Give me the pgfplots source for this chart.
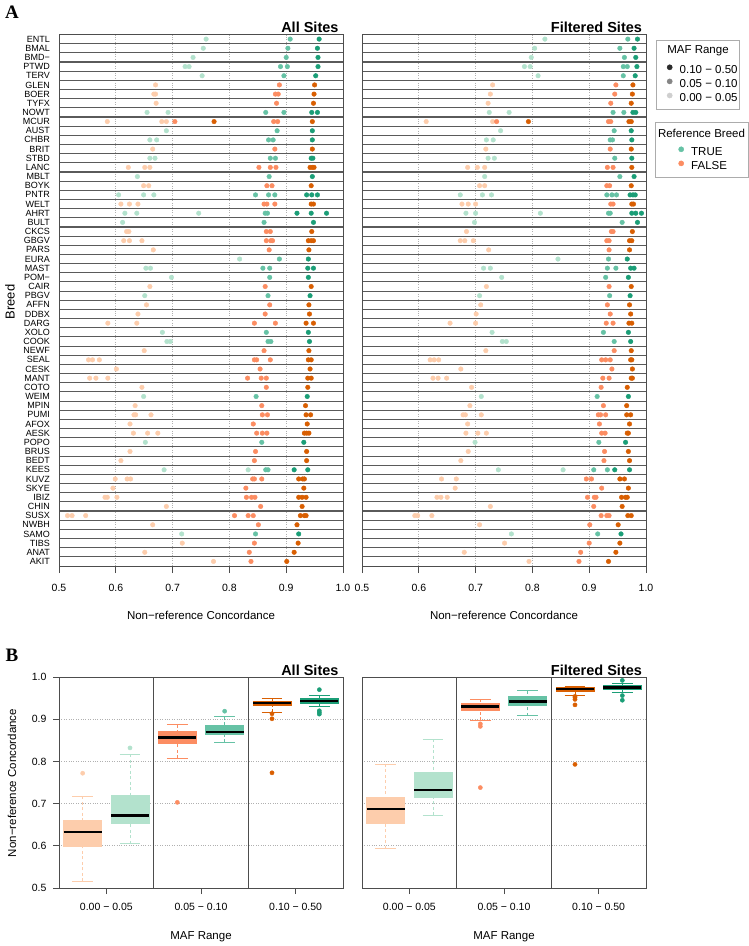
\documentclass[border=0pt]{standalone}
\usepackage{pgfplots}
\pgfplotsset{compat=1.18}
\usepgfplotslibrary{statistics}
\usepackage{fontspec}
\setmainfont{Liberation Sans}
\newfontfamily\panelfont{Liberation Serif}

\definecolor{gT1}{HTML}{B3E2CD}
\definecolor{gT2}{HTML}{66C2A5}
\definecolor{gT3}{HTML}{1B9E77}
\definecolor{oF1}{HTML}{FDCDAC}
\definecolor{oF2}{HTML}{FC8D62}
\definecolor{oF3}{HTML}{D95F02}
\definecolor{framec}{HTML}{4D4D4D}
\definecolor{rowc}{HTML}{5A5A5A}
\definecolor{gridc}{HTML}{B0B0B0}
\definecolor{lg1}{HTML}{2B2B2B}
\definecolor{lg2}{HTML}{858585}
\definecolor{lg3}{HTML}{CFCFCF}

\pgfplotsset{
  /pgf/number format/assume math mode=true,
  boxplot/draw/lower whisker/.code={%
    \draw[/pgfplots/boxplot/every whisker/.try, dash pattern=on 3pt off 2.5pt]
      (boxplot box cs:\pgfplotsboxplotvalue{lower whisker},0.5) --
      (boxplot box cs:\pgfplotsboxplotvalue{lower quartile},0.5);
    \draw[/pgfplots/boxplot/every whisker/.try, solid]
      (boxplot whisker cs:\pgfplotsboxplotvalue{lower whisker},0) --
      (boxplot whisker cs:\pgfplotsboxplotvalue{lower whisker},1);
  },
  boxplot/draw/upper whisker/.code={%
    \draw[/pgfplots/boxplot/every whisker/.try, dash pattern=on 3pt off 2.5pt]
      (boxplot box cs:\pgfplotsboxplotvalue{upper whisker},0.5) --
      (boxplot box cs:\pgfplotsboxplotvalue{upper quartile},0.5);
    \draw[/pgfplots/boxplot/every whisker/.try, solid]
      (boxplot whisker cs:\pgfplotsboxplotvalue{upper whisker},0) --
      (boxplot whisker cs:\pgfplotsboxplotvalue{upper whisker},1);
  },
  dotpanel/.style={
    scale only axis, width=284pt, height=531.5pt,
    xmin=0.5, xmax=1.0, ymin=0.5, ymax=58.5, y dir=reverse,
    axis line style={framec, line width=0.9pt},
    xtick={0.5,0.6,0.7,0.8,0.9,1.0},
    xticklabels={0.5,0.6,0.7,0.8,0.9,1.0},
    xtick pos=left, ytick pos=left, tick align=outside, major tick length=7pt,
    x tick style={framec, line width=0.9pt},
    y tick style={draw=none},
    xmajorgrids, major grid style={gridc, dotted, line width=0.7pt},
    ytick={1,...,58},
    minor y tick num=1, yminorgrids,
    minor grid style={rowc, line width=1.1pt},
    x tick label style={font=\fontsize{10.5}{12}\selectfont, yshift=-8pt},
    y tick label style={font=\fontsize{9}{10}\selectfont, xshift=1.5pt},
    clip=false,
  },
  dots/.style={scatter, only marks, mark=*, mark size=2.3pt, scatter src=explicit symbolic,
    scatter/classes={
      a={mark=*, draw=gT1, fill=gT1},
      b={mark=*, draw=gT2, fill=gT2},
      c={mark=*, draw=gT3, fill=gT3},
      d={mark=*, draw=oF1, fill=oF1},
      e={mark=*, draw=oF2, fill=oF2},
      f={mark=*, draw=oF3, fill=oF3}}},
  boxpanel/.style={
    scale only axis, width=284pt, height=211pt,
    xmin=0.5, xmax=3.5, ymin=0.5, ymax=1.0,
    axis line style={framec, line width=0.9pt},
    xtick={1,2,3}, xticklabels={0.00 − 0.05, 0.05 − 0.10, 0.10 − 0.50},
    ytick={0.5,0.6,0.7,0.8,0.9,1.0},
    tick align=outside, major tick length=6pt, xtick pos=left, ytick pos=left,
    tick style={framec, line width=0.9pt},
    ymajorgrids, major grid style={gridc, dotted, line width=0.7pt},
    extra x ticks={1.5,2.5}, extra x tick labels={},
    extra x tick style={grid=major, major grid style={framec, solid, line width=0.9pt}, major tick length=0pt},
    tick label style={font=\fontsize{10.5}{12}\selectfont},
    x tick label style={yshift=-6pt},
    y tick label style={xshift=-3pt},
  },
  bx/.style={color=#1, mark=*, mark size=2.1pt, mark options={solid, draw=#1, fill=#1},
    boxplot/draw direction=y,
    boxplot/every box/.style={draw=#1, fill=#1, line width=0.6pt},
    boxplot/every whisker/.style={draw=#1, line width=0.8pt},
    boxplot/every median/.style={draw=black, line width=2.5pt}},
  lgd/.style={hide axis, scale only axis, width=1pt, height=1pt, xmin=0, xmax=1, ymin=0, ymax=1,
    legend style={at={(0,1)}, anchor=north west, draw=none, fill=none, inner sep=0pt,
      nodes={inner sep=0pt, text height=8.3pt, text depth=2.7pt, font=\fontsize{11.5}{13}\selectfont},
      row sep=3pt, column sep=5pt},
    legend cell align=left,
    legend image code/.code={\draw[##1] plot coordinates {(0pt,3pt)}; \path[draw=none, fill=none] (-7pt,0pt) (5pt,0pt);}},
}

\begin{document}
\begin{tikzpicture}
\path[use as bounding box] (0pt,0pt) rectangle (749pt,-946pt);

% ---------------- Panel A: All Sites
\begin{axis}[dotpanel, at={(59pt,-566pt)}, anchor=south west,
  yticklabels={ENTL,BMAL,BMD−,PTWD,TERV,GLEN,BOER,TYFX,NOWT,MCUR,AUST,CHBR,BRIT,STBD,LANC,MBLT,BOYK,PNTR,WELT,AHRT,BULT,CKCS,GBGV,PARS,EURA,MAST,POM−,CAIR,PBGV,AFFN,DDBX,DARG,XOLO,COOK,NEWF,SEAL,CESK,MANT,COTO,WEIM,MPIN,PUMI,AFOX,AESK,POPO,BRUS,BEDT,KEES,KUVZ,SKYE,IBIZ,CHIN,SUSX,NWBH,SAMO,TIBS,ANAT,AKIT}]
\addplot[dots] coordinates {
(0.759,1)[a] (0.907,1)[b] (0.958,1)[c]
(0.754,2)[a] (0.903,2)[b] (0.955,2)[c]
(0.736,3)[a] (0.900,3)[b] (0.956,3)[c]
(0.722,4)[a] (0.729,4)[a] (0.890,4)[b] (0.902,4)[b] (0.956,4)[c]
(0.752,5)[a] (0.896,5)[b] (0.952,5)[c]
(0.670,6)[d] (0.888,6)[e] (0.950,6)[f]
(0.667,7)[d] (0.670,7)[d] (0.881,7)[e] (0.886,7)[e] (0.949,7)[f]
(0.671,8)[d] (0.883,8)[e] (0.948,8)[f]
(0.655,9)[a] (0.692,9)[a] (0.864,9)[b] (0.896,9)[b] (0.945,9)[c] (0.955,9)[c]
(0.585,10)[d] (0.681,10)[d] (0.689,10)[d] (0.704,10)[e] (0.878,10)[e] (0.885,10)[e] (0.773,10)[f] (0.946,10)[f]
(0.689,11)[a] (0.884,11)[b] (0.946,11)[c]
(0.660,12)[a] (0.672,12)[a] (0.869,12)[b] (0.877,12)[b] (0.946,12)[c]
(0.665,13)[d] (0.880,13)[e] (0.946,13)[f]
(0.660,14)[a] (0.669,14)[a] (0.872,14)[b] (0.881,14)[b] (0.944,14)[c] (0.947,14)[c]
(0.622,15)[d] (0.651,15)[d] (0.660,15)[d] (0.852,15)[e] (0.872,15)[e] (0.882,15)[e] (0.942,15)[f] (0.946,15)[f] (0.949,15)[f]
(0.638,16)[a] (0.870,16)[b] (0.946,16)[c]
(0.649,17)[d] (0.658,17)[d] (0.866,17)[e] (0.875,17)[e] (0.944,17)[f]
(0.605,18)[a] (0.649,18)[a] (0.667,18)[a] (0.846,18)[b] (0.869,18)[b] (0.880,18)[b] (0.936,18)[c] (0.945,18)[c] (0.955,18)[c]
(0.609,19)[d] (0.624,19)[d] (0.639,19)[d] (0.861,19)[e] (0.866,19)[e] (0.880,19)[e] (0.944,19)[f] (0.948,19)[f]
(0.616,20)[a] (0.637,20)[a] (0.746,20)[a] (0.863,20)[b] (0.867,20)[b] (0.919,20)[c] (0.944,20)[c] (0.971,20)[c]
(0.612,21)[a] (0.861,21)[b] (0.948,21)[c]
(0.619,22)[d] (0.623,22)[d] (0.865,22)[e] (0.872,22)[e] (0.945,22)[f]
(0.614,23)[d] (0.624,23)[d] (0.646,23)[d] (0.865,23)[e] (0.873,23)[e] (0.876,23)[e] (0.939,23)[f] (0.944,23)[f] (0.948,23)[f]
(0.666,24)[d] (0.870,24)[e] (0.940,24)[f]
(0.818,25)[a] (0.888,25)[b] (0.939,25)[c]
(0.653,26)[a] (0.661,26)[a] (0.859,26)[b] (0.871,26)[b] (0.938,26)[c] (0.948,26)[c]
(0.698,27)[a] (0.871,27)[b] (0.939,27)[c]
(0.660,28)[d] (0.863,28)[e] (0.944,28)[f]
(0.651,29)[a] (0.868,29)[b] (0.942,29)[c]
(0.654,30)[d] (0.871,30)[e] (0.940,30)[f]
(0.639,31)[d] (0.863,31)[e] (0.941,31)[f]
(0.586,32)[d] (0.637,32)[d] (0.844,32)[e] (0.881,32)[e] (0.935,32)[f] (0.948,32)[f]
(0.682,33)[a] (0.865,33)[b] (0.939,33)[c]
(0.690,34)[a] (0.696,34)[a] (0.868,34)[b] (0.873,34)[b] (0.941,34)[c]
(0.650,35)[d] (0.861,35)[e] (0.940,35)[f]
(0.552,36)[d] (0.559,36)[d] (0.571,36)[d] (0.844,36)[e] (0.848,36)[e] (0.872,36)[e] (0.939,36)[f] (0.944,36)[f]
(0.601,37)[d] (0.854,37)[e] (0.942,37)[f]
(0.554,38)[d] (0.565,38)[d] (0.586,38)[d] (0.832,38)[e] (0.856,38)[e] (0.865,38)[e] (0.938,38)[f] (0.944,38)[f]
(0.646,39)[d] (0.865,39)[e] (0.938,39)[f]
(0.649,40)[a] (0.847,40)[b] (0.937,40)[c]
(0.634,41)[d] (0.857,41)[e] (0.934,41)[f]
(0.632,42)[d] (0.635,42)[d] (0.662,42)[d] (0.858,42)[e] (0.867,42)[e] (0.935,42)[f] (0.943,42)[f]
(0.625,43)[d] (0.842,43)[e] (0.937,43)[f]
(0.631,44)[d] (0.656,44)[d] (0.674,44)[d] (0.848,44)[e] (0.858,44)[e] (0.866,44)[e] (0.932,44)[f] (0.936,44)[f] (0.940,44)[f]
(0.652,45)[a] (0.857,45)[b] (0.931,45)[c]
(0.625,46)[d] (0.846,46)[e] (0.936,46)[f]
(0.609,47)[d] (0.844,47)[e] (0.936,47)[f]
(0.685,48)[a] (0.833,48)[a] (0.864,48)[b] (0.868,48)[b] (0.914,48)[c] (0.938,48)[c]
(0.599,49)[d] (0.620,49)[d] (0.626,49)[d] (0.841,49)[e] (0.844,49)[e] (0.857,49)[e] (0.922,49)[f] (0.929,49)[f] (0.932,49)[f]
(0.595,50)[d] (0.829,50)[e] (0.931,50)[f]
(0.581,51)[d] (0.585,51)[d] (0.602,51)[d] (0.830,51)[e] (0.839,51)[e] (0.845,51)[e] (0.922,51)[f] (0.928,51)[f] (0.935,51)[f]
(0.689,52)[d] (0.855,52)[e] (0.928,52)[f]
(0.515,53)[d] (0.523,53)[d] (0.547,53)[d] (0.809,53)[e] (0.833,53)[e] (0.842,53)[e] (0.925,53)[f] (0.932,53)[f] (0.935,53)[f]
(0.665,54)[d] (0.851,54)[e] (0.919,54)[f]
(0.716,55)[a] (0.846,55)[b] (0.922,55)[c]
(0.717,56)[d] (0.844,56)[e] (0.921,56)[f]
(0.651,57)[d] (0.835,57)[e] (0.914,57)[f]
(0.772,58)[d] (0.838,58)[e] (0.901,58)[f]
};
\end{axis}

% ---------------- Panel A: Filtered Sites
\begin{axis}[dotpanel, at={(362pt,-566pt)}, anchor=south west, yticklabels={}]
\addplot[dots] coordinates {
(0.822,1)[a] (0.968,1)[b] (0.985,1)[c]
(0.804,2)[a] (0.954,2)[b] (0.979,2)[c]
(0.798,3)[a] (0.962,3)[b] (0.982,3)[c]
(0.786,4)[a] (0.796,4)[a] (0.960,4)[b] (0.967,4)[b] (0.984,4)[c]
(0.810,5)[a] (0.960,5)[b] (0.981,5)[c]
(0.730,6)[d] (0.947,6)[e] (0.977,6)[f]
(0.726,7)[d] (0.945,7)[e] (0.976,7)[f]
(0.722,8)[d] (0.938,8)[e] (0.974,8)[f]
(0.724,9)[a] (0.759,9)[a] (0.942,9)[b] (0.961,9)[b] (0.977,9)[c] (0.982,9)[c]
(0.613,10)[d] (0.730,10)[d] (0.737,10)[e] (0.934,10)[e] (0.938,10)[e] (0.793,10)[f] (0.970,10)[f] (0.974,10)[f]
(0.744,11)[a] (0.944,11)[b] (0.974,11)[c]
(0.719,12)[a] (0.731,12)[a] (0.937,12)[b] (0.941,12)[b] (0.975,12)[c]
(0.718,13)[d] (0.937,13)[e] (0.974,13)[f]
(0.722,14)[a] (0.733,14)[a] (0.945,14)[b] (0.975,14)[c]
(0.686,15)[d] (0.703,15)[d] (0.716,15)[d] (0.932,15)[e] (0.942,15)[e] (0.975,15)[f]
(0.716,16)[a] (0.954,16)[b] (0.979,16)[c]
(0.707,17)[d] (0.716,17)[d] (0.931,17)[e] (0.936,17)[e] (0.974,17)[f]
(0.673,18)[a] (0.712,18)[a] (0.728,18)[a] (0.931,18)[b] (0.940,18)[b] (0.948,18)[b] (0.972,18)[c] (0.977,18)[c] (0.981,18)[c]
(0.676,19)[d] (0.687,19)[d] (0.700,19)[d] (0.938,19)[e] (0.942,19)[e] (0.975,19)[f] (0.978,19)[f]
(0.683,20)[a] (0.700,20)[a] (0.814,20)[a] (0.934,20)[b] (0.937,20)[b] (0.975,20)[c] (0.982,20)[c] (0.992,20)[c]
(0.698,21)[a] (0.958,21)[b] (0.985,21)[c]
(0.684,22)[d] (0.939,22)[e] (0.942,22)[e] (0.976,22)[f]
(0.673,23)[d] (0.681,23)[d] (0.696,23)[d] (0.931,23)[e] (0.935,23)[e] (0.971,23)[f] (0.975,23)[f]
(0.723,24)[d] (0.935,24)[e] (0.971,24)[f]
(0.845,25)[a] (0.934,25)[b] (0.967,25)[c]
(0.714,26)[a] (0.726,26)[a] (0.932,26)[b] (0.947,26)[b] (0.973,26)[c] (0.979,26)[c]
(0.746,27)[a] (0.929,27)[b] (0.969,27)[c]
(0.719,28)[d] (0.935,28)[e] (0.974,28)[f]
(0.707,29)[a] (0.936,29)[b] (0.972,29)[c]
(0.709,30)[d] (0.932,30)[e] (0.971,30)[f]
(0.701,31)[d] (0.937,31)[e] (0.973,31)[f]
(0.655,32)[d] (0.700,32)[d] (0.930,32)[e] (0.942,32)[e] (0.970,32)[f] (0.975,32)[f]
(0.729,33)[a] (0.925,33)[b] (0.969,33)[c]
(0.747,34)[a] (0.754,34)[a] (0.944,34)[b] (0.973,34)[c]
(0.718,35)[d] (0.944,35)[e] (0.974,35)[f]
(0.620,36)[d] (0.627,36)[d] (0.635,36)[d] (0.922,36)[e] (0.929,36)[e] (0.937,36)[e] (0.973,36)[f] (0.975,36)[f]
(0.674,37)[d] (0.940,37)[e] (0.976,37)[f]
(0.625,38)[d] (0.634,38)[d] (0.649,38)[d] (0.924,38)[e] (0.935,38)[e] (0.974,38)[f] (0.976,38)[f]
(0.693,39)[d] (0.921,39)[e] (0.967,39)[f]
(0.710,40)[a] (0.914,40)[b] (0.969,40)[c]
(0.690,41)[d] (0.925,41)[e] (0.966,41)[f]
(0.678,42)[d] (0.682,42)[d] (0.710,42)[d] (0.916,42)[e] (0.920,42)[e] (0.929,42)[e] (0.966,42)[f] (0.973,42)[f]
(0.686,43)[d] (0.918,43)[e] (0.971,43)[f]
(0.683,44)[d] (0.704,44)[d] (0.719,44)[d] (0.922,44)[e] (0.928,44)[e] (0.967,44)[f] (0.969,44)[f]
(0.699,45)[a] (0.917,45)[b] (0.964,45)[c]
(0.687,46)[d] (0.927,46)[e] (0.969,46)[f]
(0.674,47)[d] (0.926,47)[e] (0.971,47)[f]
(0.740,48)[a] (0.854,48)[a] (0.908,48)[b] (0.932,48)[b] (0.945,48)[c] (0.971,48)[c]
(0.640,49)[d] (0.666,49)[d] (0.895,49)[e] (0.904,49)[e] (0.954,49)[f] (0.962,49)[f]
(0.664,50)[d] (0.922,50)[e] (0.969,50)[f]
(0.632,51)[d] (0.639,51)[d] (0.650,51)[d] (0.897,51)[e] (0.909,51)[e] (0.912,51)[e] (0.957,51)[f] (0.964,51)[f] (0.967,51)[f]
(0.726,52)[d] (0.908,52)[e] (0.958,52)[f]
(0.593,53)[d] (0.598,53)[d] (0.623,53)[d] (0.921,53)[e] (0.931,53)[e] (0.935,53)[e] (0.968,53)[f] (0.974,53)[f]
(0.707,54)[d] (0.901,54)[e] (0.951,54)[f]
(0.763,55)[a] (0.915,55)[b] (0.956,55)[c]
(0.751,56)[d] (0.900,56)[e] (0.954,56)[f]
(0.680,57)[d] (0.885,57)[e] (0.947,57)[f]
(0.794,58)[d] (0.882,58)[e] (0.934,58)[f]
};
\end{axis}

% ---------------- Legends (panel A)
\draw[gray!65, line width=0.9pt] (656pt,-40pt) rectangle (739pt,-109pt);
\node[font=\fontsize{11.5}{13}\selectfont] at (698pt,-50.5pt) {MAF Range};
\begin{axis}[lgd, at={(662.5pt,-64.5pt)}, anchor=north west]
\addlegendimage{only marks, mark=*, mark size=2.6pt, draw=lg1, fill=lg1}
\addlegendentry{0.10 − 0.50}
\addlegendimage{only marks, mark=*, mark size=2.6pt, draw=lg2, fill=lg2}
\addlegendentry{0.05 − 0.10}
\addlegendimage{only marks, mark=*, mark size=2.6pt, draw=lg3, fill=lg3}
\addlegendentry{0.00 − 0.05}
\end{axis}

\draw[gray!65, line width=0.9pt] (655pt,-122pt) rectangle (748pt,-177pt);
\node[font=\fontsize{11.5}{13}\selectfont] at (701.5pt,-133pt) {Reference Breed};
\begin{axis}[lgd, at={(674pt,-146.5pt)}, anchor=north west]
\addlegendimage{only marks, mark=*, mark size=2.6pt, draw=gT2, fill=gT2}
\addlegendentry{TRUE}
\addlegendimage{only marks, mark=*, mark size=2.6pt, draw=oF2, fill=oF2}
\addlegendentry{FALSE}
\end{axis}

% ---------------- Panel B: All Sites
\begin{axis}[boxpanel, at={(59pt,-888pt)}, anchor=south west,
  yticklabels={0.5,0.6,0.7,0.8,0.9,1.0}]
\addplot[boxplot prepared={draw position=0.75, box extend=0.4, whisker extend=0.22,
  lower whisker=0.516, lower quartile=0.600, median=0.633, upper quartile=0.661, upper whisker=0.717}, bx=oF1]
  table[row sep=\\, y index=0] {0.772\\};
\addplot[boxplot prepared={draw position=1.25, box extend=0.4, whisker extend=0.22,
  lower whisker=0.605, lower quartile=0.653, median=0.672, upper quartile=0.720, upper whisker=0.817}, bx=gT1]
  table[row sep=\\, y index=0] {0.832\\};
\addplot[boxplot prepared={draw position=1.75, box extend=0.4, whisker extend=0.22,
  lower whisker=0.808, lower quartile=0.843, median=0.857, upper quartile=0.871, upper whisker=0.887}, bx=oF2]
  table[row sep=\\, y index=0] {0.703\\};
\addplot[boxplot prepared={draw position=2.25, box extend=0.4, whisker extend=0.22,
  lower whisker=0.845, lower quartile=0.864, median=0.870, upper quartile=0.886, upper whisker=0.906}, bx=gT2]
  table[row sep=\\, y index=0] {0.919\\};
\addplot[boxplot prepared={draw position=2.75, box extend=0.4, whisker extend=0.22,
  lower whisker=0.917, lower quartile=0.933, median=0.939, upper quartile=0.943, upper whisker=0.950}, bx=oF3]
  table[row sep=\\, y index=0] {0.913\\0.901\\0.773\\};
\addplot[boxplot prepared={draw position=3.25, box extend=0.4, whisker extend=0.22,
  lower whisker=0.930, lower quartile=0.938, median=0.943, upper quartile=0.949, upper whisker=0.956}, bx=gT3]
  table[row sep=\\, y index=0] {0.970\\0.920\\0.916\\0.912\\};
\end{axis}

% ---------------- Panel B: Filtered Sites
\begin{axis}[boxpanel, at={(362pt,-888pt)}, anchor=south west,
  yticklabels={}, y tick style={draw=none}]
\addplot[boxplot prepared={draw position=0.75, box extend=0.4, whisker extend=0.22,
  lower whisker=0.593, lower quartile=0.654, median=0.687, upper quartile=0.716, upper whisker=0.794}, bx=oF1]
  coordinates {};
\addplot[boxplot prepared={draw position=1.25, box extend=0.4, whisker extend=0.22,
  lower whisker=0.672, lower quartile=0.714, median=0.732, upper quartile=0.775, upper whisker=0.853}, bx=gT1]
  coordinates {};
\addplot[boxplot prepared={draw position=1.75, box extend=0.4, whisker extend=0.22,
  lower whisker=0.897, lower quartile=0.921, median=0.930, upper quartile=0.937, upper whisker=0.947}, bx=oF2]
  table[row sep=\\, y index=0] {0.889\\0.883\\0.738\\};
\addplot[boxplot prepared={draw position=2.25, box extend=0.4, whisker extend=0.22,
  lower whisker=0.908, lower quartile=0.932, median=0.942, upper quartile=0.954, upper whisker=0.968}, bx=gT2]
  coordinates {};
\addplot[boxplot prepared={draw position=2.75, box extend=0.4, whisker extend=0.22,
  lower whisker=0.957, lower quartile=0.967, median=0.971, upper quartile=0.975, upper whisker=0.978}, bx=oF3]
  table[row sep=\\, y index=0] {0.954\\0.951\\0.947\\0.934\\0.793\\};
\addplot[boxplot prepared={draw position=3.25, box extend=0.4, whisker extend=0.22,
  lower whisker=0.964, lower quartile=0.971, median=0.975, upper quartile=0.980, upper whisker=0.985}, bx=gT3]
  table[row sep=\\, y index=0] {0.992\\0.956\\0.945\\};
\end{axis}

% ---------------- Titles and labels
\node[font=\panelfont\bfseries\fontsize{19}{21}\selectfont] at (12pt,-12.5pt) {A};
\node[font=\panelfont\bfseries\fontsize{19}{21}\selectfont] at (12pt,-655pt) {B};
\node[anchor=base east, font=\bfseries\fontsize{14.5}{16}\selectfont] at (342pt,-32.5pt) {All Sites};
\node[anchor=base east, font=\bfseries\fontsize{14.5}{16}\selectfont] at (645.5pt,-32.5pt) {Filtered Sites};
\node[anchor=base east, font=\bfseries\fontsize{14.5}{16}\selectfont] at (342pt,-675pt) {All Sites};
\node[anchor=base east, font=\bfseries\fontsize{14.5}{16}\selectfont] at (645.5pt,-675pt) {Filtered Sites};
\node[font=\fontsize{11.5}{13}\selectfont] at (201pt,-615pt) {Non−reference Concordance};
\node[font=\fontsize{11.5}{13}\selectfont] at (504pt,-615pt) {Non−reference Concordance};
\node[rotate=90, font=\fontsize{13}{15}\selectfont] at (10pt,-302pt) {Breed};
\node[rotate=90, font=\fontsize{11.5}{13}\selectfont] at (12pt,-783pt) {Non−reference Concordance};
\node[font=\fontsize{11.5}{13}\selectfont] at (201pt,-937pt) {MAF Range};
\node[font=\fontsize{11.5}{13}\selectfont] at (504pt,-937pt) {MAF Range};
\end{tikzpicture}
\end{document}
